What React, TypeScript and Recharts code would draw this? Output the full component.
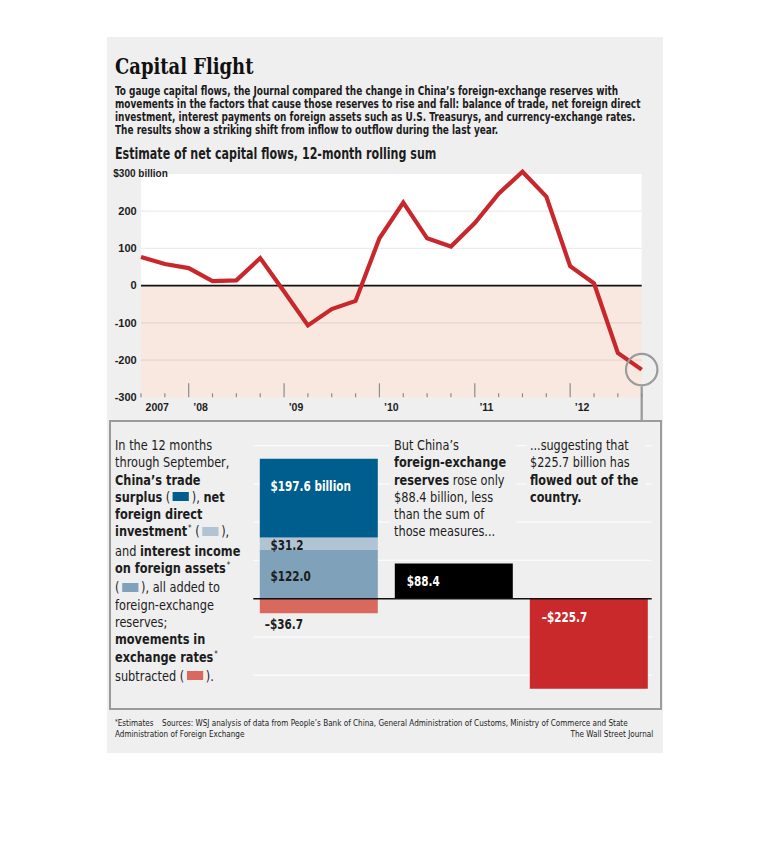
import React from 'react';
import {
  LineChart,
  Line,
  XAxis,
  YAxis,
  CartesianGrid,
  ReferenceArea,
  ReferenceLine,
  ReferenceDot,
  BarChart,
  Bar,
  LabelList,
} from 'recharts';

// Estimate of net capital flows, 12-month rolling sum, $ billion, by quarter end
const periods = [
  '2007-06', '2007-09', '2007-12', '2008-03', '2008-06', '2008-09', '2008-12', '2009-03',
  '2009-06', '2009-09', '2009-12', '2010-03', '2010-06', '2010-09', '2010-12', '2011-03',
  '2011-06', '2011-09', '2011-12', '2012-03', '2012-06', '2012-09',
];
const netFlows = [
  77, 58, 47, 12, 14, 74, -16, -107, -63, -41, 127, 223, 127, 105, 168, 247, 306, 239, 52, 6,
  -181, -225.7,
];
const yTicks = [-300, -200, -100, 0, 100, 200, 300];
const yGrid = [-200, -100, 100, 200];
// first period of each labelled year on the time axis
const yearStarts = ['2007-06', '2007-12', '2008-12', '2009-12', '2010-12', '2011-12'];
const yearLabels = ['2007', '\u201908', '\u201909', '\u201910', '\u201911', '\u201912'];

// Twelve months through September 2012, $ billion
const barGroups = ['Components', 'Reserves', 'Outflow'];
const interestIncome = [122.0, 0, 0];
const netFDI = [31.2, 0, 0];
const tradeSurplus = [197.6, 0, 0];
const exchangeRates = [-36.7, 0, 0];
const reserveChange = [0, 88.4, 0];
const capitalOutflow = [0, 0, -225.7];
const barGrid = [-192, -96, 96, 192, 288, 384];

const NARROW = "'Liberation Sans Narrow', 'DejaVu Sans Condensed', 'Arial Narrow', sans-serif";
const PLAIN = "'Liberation Sans', Arial, sans-serif";
const SERIF = "'DejaVu Serif Condensed', 'DejaVu Serif', serif";

const BG = '#efefef';
const INK = '#1c1c1c';
const C_TRADE = '#005e8e';
const C_FDI = '#b0c4d3';
const C_INTEREST = '#7fa1b9';
const C_FX = '#d9695f';
const C_OUT = '#c9292b';

const lineData = periods.map((p, i) => ({ i, period: p, flow: netFlows[i] }));
const barData = barGroups.map((g, i) => ({
  pos: i,
  group: g,
  interest: interestIncome[i],
  fdi: netFDI[i],
  trade: tradeSurplus[i],
  fx: exchangeRates[i],
  reserves: reserveChange[i],
  outflow: capitalOutflow[i],
}));

const YTick = ({ x, y, payload }: any) => {
  const v = payload.value;
  const style = { fontFamily: PLAIN, fontWeight: 700, fontSize: 11, fill: INK };
  if (v === 300) {
    return (
      <text x={x - 23.4} y={y} dy="0.35em" textAnchor="start" style={{ ...style, fontSize: 10 }}>
        $300 billion
      </text>
    );
  }
  return (
    <text x={x} y={y} dy="0.35em" textAnchor="end" style={style}>
      {v}
    </text>
  );
};

const XTick = ({ x, y, payload }: any) => {
  const period = periods[payload.value];
  const k = yearStarts.indexOf(period);
  const major = k > 0;
  return (
    <g>
      <line x1={x} x2={x} y1={y - (major ? 14 : 4)} y2={y} stroke="#8c8c8c" strokeWidth={1.2} />
      {k >= 0 && (
        <text
          x={x + 4.6}
          y={y + 10}
          dy="0.35em"
          textAnchor="start"
          style={{ fontFamily: PLAIN, fontWeight: 700, fontSize: 10.5, fill: INK }}
        >
          {yearLabels[k]}
        </text>
      )}
    </g>
  );
};

const Callout = ({ cx, cy }: any) => (
  <g>
    <circle cx={cx} cy={cy} r={15.7} fill="none" stroke="#9b9b9b" strokeWidth={2.2} />
    <line x1={cx} x2={cx} y1={cy + 16.8} y2={cy + 52} stroke="#9b9b9b" strokeWidth={2.3} />
  </g>
);

const money = (v: number) => (v < 0 ? '\u2013' : '') + '$' + Math.abs(v).toFixed(1);

function barLabel(fill: string, dx: number, dy: number, below = false, suffix = '') {
  return (props: any) => {
    const value = Number(props.value);
    if (!value) return null;
    const x = Number(props.x);
    const y = Number(props.y);
    const h = Number(props.height);
    const top = Math.min(y, y + h);
    const bottom = Math.max(y, y + h);
    const ty = (below ? bottom : top) + dy;
    return (
      <text
        transform={`translate(${x + dx} ${ty}) scale(0.83 1)`}
        dy="0.35em"
        style={{ fontFamily: NARROW, fontWeight: 700, fontSize: 14, fill }}
      >
        {money(value) + suffix}
      </text>
    );
  };
}

const Swatch = ({ c }: { c: string }) => (
  <span
    style={{
      display: 'inline-block',
      width: 18,
      height: 9,
      background: c,
      margin: '0 3px',
      verticalAlign: 'middle',
      position: 'relative',
      top: -1,
    }}
  />
);

const Star = () => (
  <span style={{ fontSize: 8.5, position: 'relative', top: -5, marginLeft: 1 }}>*</span>
);

const abs = (left: number, top: number, extra: React.CSSProperties = {}): React.CSSProperties => ({
  position: 'absolute',
  left,
  top,
  ...extra,
});

const squeeze = (k: number): React.CSSProperties => ({
  transform: `scaleX(${k})`,
  transformOrigin: 'left top',
  whiteSpace: 'nowrap',
});

export default function App() {
  return (
    <div style={abs(0, 0, { width: 770, height: 848, background: '#fff', color: INK })}>
      <div style={abs(107.3, 37.3, { width: 555.4, height: 716, background: BG })} />

      <div
        style={abs(115, 52.2, {
          fontFamily: SERIF,
          fontWeight: 700,
          fontSize: 22.5,
          lineHeight: '28px',
          color: '#111',
          ...squeeze(0.886),
        })}
      >
        Capital Flight
      </div>

      <div
        style={abs(115, 84.5, {
          fontFamily: NARROW,
          fontWeight: 700,
          fontSize: 11.5,
          lineHeight: '13px',
          ...squeeze(0.865),
        })}
      >
        <div>To gauge capital flows, the Journal compared the change in China’s foreign-exchange reserves with</div>
        <div>movements in the factors that cause those reserves to rise and fall: balance of trade, net foreign direct</div>
        <div>investment, interest payments on foreign assets such as U.S. Treasurys, and currency-exchange rates.</div>
        <div>The results show a striking shift from inflow to outflow during the last year.</div>
      </div>

      <div
        style={abs(115, 146, {
          fontFamily: NARROW,
          fontWeight: 700,
          fontSize: 15,
          lineHeight: '16px',
          ...squeeze(0.822),
        })}
      >
        Estimate of net capital flows, 12-month rolling sum
      </div>

      <div
        style={abs(108.5, 419.5, {
          width: 553.5,
          height: 290,
          border: '2.5px solid #9b9b9b',
          boxSizing: 'border-box',
        })}
      />

      <div style={abs(100, 160, { width: 560, height: 262 })}>
        <LineChart
          width={560}
          height={262}
          data={lineData}
          margin={{ top: 11.7, right: 18.3, bottom: 2, left: 0 }}
        >
          <ReferenceArea y1={0} y2={300} fill="#ffffff" fillOpacity={1} stroke="none" zIndex={-300} />
          <ReferenceArea y1={-300} y2={0} fill="#f9e8e0" fillOpacity={1} stroke="none" zIndex={-300} />
          {yGrid.map((v) => (
            <ReferenceLine key={v} y={v} stroke="#000" strokeOpacity={0.08} strokeWidth={1.2} zIndex={-250} />
          ))}
          <XAxis
            dataKey="i"
            type="number"
            domain={[0, periods.length - 1]}
            ticks={lineData.map((d) => d.i)}
            interval={0}
            height={22.7}
            axisLine={false}
            tickLine={false}
            tickSize={0}
            tickMargin={0}
            tick={<XTick />}
          />
          <YAxis
            type="number"
            domain={[-300, 300]}
            ticks={yTicks}
            interval={0}
            width={41}
            axisLine={false}
            tickLine={false}
            tickSize={0}
            tickMargin={4.3}
            tick={<YTick />}
          />
          <ReferenceLine y={0} stroke="#111" strokeWidth={1.6} zIndex={350} />
          <Line
            type="linear"
            dataKey="flow"
            stroke="#c8282c"
            strokeWidth={4.2}
            dot={false}
            activeDot={false}
            isAnimationActive={false}
          />
          <ReferenceDot
            x={periods.length - 1}
            y={netFlows[netFlows.length - 1]}
            ifOverflow="visible"
            shape={<Callout />}
          />
        </LineChart>
      </div>

      <div style={abs(240, 430, { width: 420, height: 275 })}>
        <BarChart
          width={420}
          height={275}
          data={barData}
          stackOffset="sign"
          barSize={118}
          margin={{ top: 15.6, right: 8.3, bottom: 10.6, left: 13.3 }}
        >
          <CartesianGrid
            vertical={false}
            horizontalValues={barGrid}
            stroke="#fbfbfb"
            strokeWidth={1.3}
          />
          <XAxis dataKey="pos" type="number" domain={[-0.4815, 2.4696]} hide />
          <YAxis type="number" domain={[-240, 384]} ticks={barGrid} hide />
          <Bar dataKey="interest" stackId="s" fill={C_INTEREST} isAnimationActive={false}>
            <LabelList dataKey="interest" content={barLabel(INK, 10.7, 26.3)} />
          </Bar>
          <Bar dataKey="fdi" stackId="s" fill={C_FDI} isAnimationActive={false}>
            <LabelList dataKey="fdi" content={barLabel(INK, 10.7, 7.4)} />
          </Bar>
          <Bar dataKey="trade" stackId="s" fill={C_TRADE} isAnimationActive={false}>
            <LabelList dataKey="trade" content={barLabel('#fff', 10.7, 27.7, false, ' billion')} />
          </Bar>
          <Bar dataKey="fx" stackId="s" fill={C_FX} isAnimationActive={false}>
            <LabelList dataKey="fx" content={barLabel(INK, 5, 10.6, true)} />
          </Bar>
          <Bar dataKey="reserves" stackId="s" fill="#000" isAnimationActive={false}>
            <LabelList dataKey="reserves" content={barLabel('#fff', 12, 17.7)} />
          </Bar>
          <Bar dataKey="outflow" stackId="s" fill={C_OUT} isAnimationActive={false}>
            <LabelList dataKey="outflow" content={barLabel('#fff', 12, 18)} />
          </Bar>
          <ReferenceLine y={0} stroke="#111" strokeWidth={1.6} />
        </BarChart>
      </div>

      <div
        style={abs(115, 437, {
          fontFamily: NARROW,
          fontSize: 14,
          lineHeight: '17.3px',
          ...squeeze(0.9),
        })}
      >
        <div>In the 12 months</div>
        <div>through September,</div>
        <div><b>China’s trade</b></div>
        <div><b>surplus</b> (<Swatch c={C_TRADE} />), <b>net</b></div>
        <div><b>foreign direct</b></div>
        <div><b>investment</b><Star /> (<Swatch c={C_FDI} />),</div>
        <div>and <b>interest income</b></div>
        <div><b>on foreign assets</b><Star /></div>
        <div>(<Swatch c={C_INTEREST} />), all added to</div>
        <div>foreign-exchange</div>
        <div>reserves;</div>
        <div><b>movements in</b></div>
        <div><b>exchange rates</b><Star /></div>
        <div>subtracted (<Swatch c={C_FX} />).</div>
      </div>

      <div style={abs(390, 437, { width: 126, height: 104, background: BG })}>
        <div
          style={{
            marginLeft: 4,
            fontFamily: NARROW,
            fontSize: 14,
            lineHeight: '17.3px',
            ...squeeze(0.9),
          }}
        >
          <div>But China’s</div>
          <div><b>foreign-exchange</b></div>
          <div><b>reserves</b> rose only</div>
          <div>$88.4 billion, less</div>
          <div>than the sum of</div>
          <div>those measures...</div>
        </div>
      </div>

      <div style={abs(527, 437, { width: 118, height: 70, background: BG })}>
        <div
          style={{
            marginLeft: 3.3,
            fontFamily: NARROW,
            fontSize: 14,
            lineHeight: '17.3px',
            ...squeeze(0.89),
          }}
        >
          <div>...suggesting that</div>
          <div>$225.7 billion has</div>
          <div><b>flowed out of the</b></div>
          <div><b>country.</b></div>
        </div>
      </div>

      <div
        style={abs(115, 717.7, {
          width: 538.3 / 0.85,
          fontFamily: NARROW,
          fontSize: 9.5,
          lineHeight: '10px',
          ...squeeze(0.85),
        })}
      >
        <div>
          <span style={{ fontSize: 7, position: 'relative', top: -2 }}>*</span>Estimates
          <span style={{ marginLeft: 10 }}>
            Sources: WSJ analysis of data from People’s Bank of China, General Administration of Customs, Ministry of Commerce and State
          </span>
        </div>
        <div style={{ display: 'flex', justifyContent: 'space-between' }}>
          <span>Administration of Foreign Exchange</span>
          <span>The Wall Street Journal</span>
        </div>
      </div>
    </div>
  );
}
